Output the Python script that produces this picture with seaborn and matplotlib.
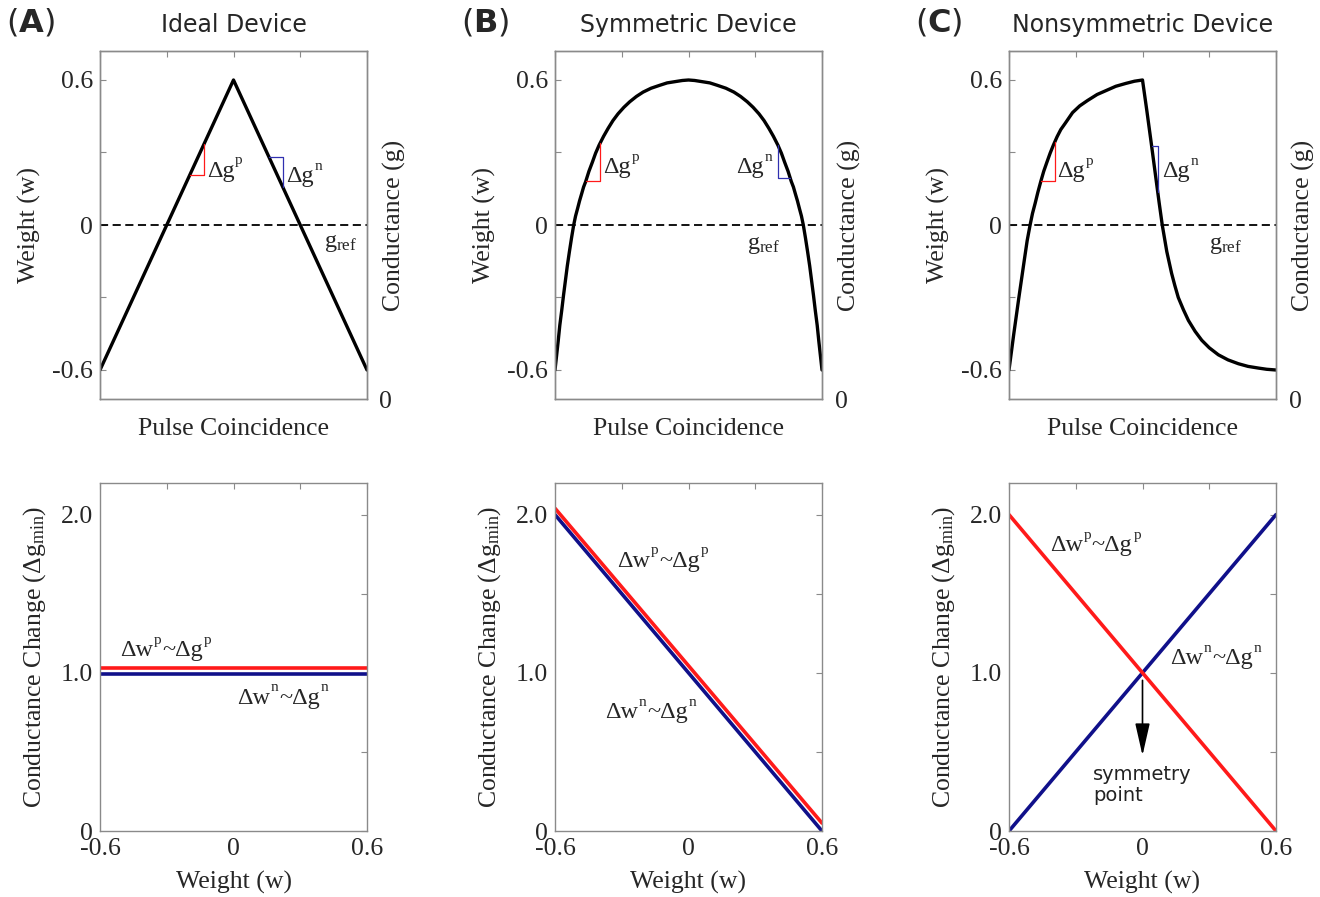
import numpy as np
import matplotlib
matplotlib.use("Agg")
import matplotlib.pyplot as plt
import seaborn as sns

# ---------------- data ----------------
# Top row: weight vs normalised pulse coincidence
pulse_A = [0.0, 0.5, 1.0]
weight_A = [-0.6, 0.6, -0.6]

pulse_B = [0.0, 0.006, 0.012, 0.018, 0.025, 0.032, 0.039, 0.046, 0.054, 0.062,
           0.070, 0.077, 0.085, 0.092, 0.100, 0.107, 0.115, 0.127, 0.140, 0.152,
           0.165, 0.182, 0.199, 0.217, 0.236, 0.258, 0.280, 0.305, 0.330, 0.360,
           0.392, 0.420, 0.454, 0.477, 0.500,
           0.523, 0.546, 0.580, 0.608, 0.640, 0.670, 0.695, 0.720, 0.742, 0.764,
           0.783, 0.801, 0.818, 0.835, 0.848, 0.860, 0.873, 0.885, 0.893, 0.900,
           0.908, 0.915, 0.923, 0.930, 0.938, 0.946, 0.954, 0.961, 0.968, 0.975,
           0.982, 0.988, 0.994, 1.0]
weight_B = [-0.60, -0.54, -0.48, -0.415, -0.355, -0.29, -0.23, -0.17, -0.11, -0.053,
            0.00, 0.037, 0.07, 0.10, 0.13, 0.157, 0.18, 0.222, 0.26, 0.297,
            0.33, 0.367, 0.40, 0.432, 0.46, 0.487, 0.51, 0.532, 0.55, 0.566,
            0.578, 0.588, 0.594, 0.598, 0.60,
            0.598, 0.594, 0.588, 0.578, 0.566, 0.55, 0.532, 0.51, 0.487, 0.46,
            0.432, 0.40, 0.367, 0.33, 0.297, 0.26, 0.222, 0.18, 0.157, 0.13,
            0.10, 0.07, 0.037, 0.00, -0.053, -0.11, -0.17, -0.23, -0.29, -0.355,
            -0.415, -0.48, -0.54, -0.60]

pulse_C = [0.0, 0.018, 0.037, 0.058, 0.068, 0.079, 0.088, 0.098, 0.108, 0.119,
           0.130, 0.142, 0.154, 0.166, 0.180, 0.194, 0.210, 0.238, 0.265, 0.294,
           0.330, 0.363, 0.400, 0.438, 0.470, 0.500,
           0.516, 0.532, 0.547, 0.562, 0.574, 0.591, 0.609, 0.621, 0.634, 0.653,
           0.672, 0.697, 0.722, 0.750, 0.784, 0.820, 0.859, 0.895, 0.934, 0.965, 1.0]
weight_C = [-0.60, -0.45, -0.30, -0.14, -0.065, 0.00, 0.048, 0.09, 0.135, 0.18,
            0.222, 0.26, 0.297, 0.33, 0.365, 0.395, 0.42, 0.465, 0.493, 0.515,
            0.54, 0.556, 0.574, 0.586, 0.595, 0.60,
            0.475, 0.345, 0.22, 0.095, 0.00, -0.11, -0.20, -0.25, -0.30, -0.35,
            -0.395, -0.44, -0.477, -0.508, -0.537, -0.558, -0.574, -0.585, -0.592, -0.597, -0.60]

# bracket positions (x1, x2) on the pulse axis
bracket_p = {"A": (0.337, 0.390), "B": (0.115, 0.169), "C": (0.119, 0.171)}
bracket_n = {"A": (0.633, 0.685), "B": (0.835, 0.881), "C": (0.534, 0.557)}

# Bottom row: conductance change vs weight
weight_axis = [-0.6, 0.6]
dgp_A = [1.03, 1.03]
dgn_A = [0.995, 0.995]
dgp_B = [2.04, 0.05]
dgn_B = [2.00, 0.00]
dgp_C = [2.00, 0.00]
dgn_C = [0.00, 2.00]

titles = ["Ideal Device", "Symmetric Device", "Nonsymmetric Device"]
letters = ["A", "B", "C"]
top_yticks = [-0.6, -0.3, 0, 0.3, 0.6]
top_yticklabels = ["-0.6", "", "0", "", "0.6"]
bot_yticks = [0, 0.5, 1.0, 1.5, 2.0]
bot_yticklabels = ["0", "", "1.0", "", "2.0"]
bot_xticks = [-0.6, -0.3, 0, 0.3, 0.6]
bot_xticklabels = ["-0.6", "", "0", "", "0.6"]

# ---------------- style ----------------
sns.set_style("white")
plt.rcParams["font.family"] = ["Liberation Serif", "DejaVu Serif"]
plt.rcParams["mathtext.fontset"] = "custom"
plt.rcParams["mathtext.rm"] = "Liberation Serif"
plt.rcParams["mathtext.it"] = "Liberation Serif:italic"
plt.rcParams["axes.unicode_minus"] = False

SPINE = "#8a8a8a"
RED = "#ff1a1a"
BLUE = "#10108a"
BR_BLUE = "#3030b0"
FS = 18.5
ANN = 17.5
SUP = 11

W, H = 1320, 897
fig = plt.figure(figsize=(W / 100, H / 100), dpi=100)

lefts = [100, 555, 1009]
width = 267
top_y0, top_y1 = 51, 399
bot_y0, bot_y1 = 483, 831


def make_ax(left, y0, y1):
    return fig.add_axes([left / W, 1 - y1 / H, width / W, (y1 - y0) / H])


def style_ax(ax):
    for s in ax.spines.values():
        s.set_color(SPINE)
        s.set_linewidth(1.0)
    ax.tick_params(direction="in", length=4, width=0.8, color=SPINE,
                   top=True, right=True, labelsize=FS, pad=5)


def rich_text(ax, x, y, parts):
    """parts: list of (string, is_superscript); (x, y) = lower-left of first part."""
    first = ax.text(x, y, parts[0][0], fontsize=ANN, ha="left", va="bottom")
    prev = first
    for txt, sup in parts[1:]:
        if sup:
            prev = ax.annotate(txt, xy=(1, 1), xycoords=(prev, first),
                               xytext=(0.6, 4.5), textcoords="offset points",
                               fontsize=SUP, ha="left", va="top")
        else:
            prev = ax.annotate(txt, xy=(1, 0), xycoords=(prev, first),
                               xytext=(0.3, 0), textcoords="offset points",
                               fontsize=ANN, ha="left", va="bottom")
    return first


top_data = [(pulse_A, weight_A), (pulse_B, weight_B), (pulse_C, weight_C)]
bot_data = [(dgp_A, dgn_A), (dgp_B, dgn_B), (dgp_C, dgn_C)]

dgp_pos = {"A": (0.40, 0.18), "B": (0.18, 0.194), "C": (0.18, 0.177)}
dgn_pos = {"A": (0.697, 0.157), "B": (0.678, 0.194), "C": (0.573, 0.177)}
gref_pos = {"A": (0.84, -0.075), "B": (0.72, -0.085), "C": (0.75, -0.085)}
p_lab = {"A": (-0.51, 1.075), "B": (-0.32, 1.64), "C": (-0.416, 1.736)}
n_lab = {"A": (0.016, 0.774), "B": (-0.375, 0.68), "C": (0.124, 1.025)}
letter_x = [6, 461, 915]

for i, key in enumerate(letters):
    # ---------- top row ----------
    ax = make_ax(lefts[i], top_y0, top_y1)
    px, wy = top_data[i]
    sns.lineplot(x=px, y=wy, ax=ax, color="black", lw=2.4,
                 estimator=None, sort=False)
    ax.axhline(0, color="black", lw=1.3, ls=(0, (4.5, 2.5)))
    ax.set_xlim(0, 1)
    ax.set_ylim(-0.72, 0.72)
    ax.set_xticks([0, 0.25, 0.5, 0.75, 1.0])
    ax.set_xticklabels([])
    ax.set_yticks(top_yticks)
    ax.set_yticklabels(top_yticklabels)
    style_ax(ax)
    ax.set_xlabel("Pulse Coincidence", fontsize=FS, labelpad=9)
    ax.set_ylabel("Weight (w)", fontsize=FS, labelpad=8)
    ax.set_title(titles[i], fontsize=17, family="DejaVu Sans", pad=14)

    # brackets
    x1, x2 = bracket_p[key]
    y1, y2 = np.interp(x1, px, wy), np.interp(x2, px, wy)
    ax.plot([x1, x2, x2], [y1, y1, y2], color=RED, lw=0.9)
    x1, x2 = bracket_n[key]
    y1, y2 = np.interp(x1, px, wy), np.interp(x2, px, wy)
    if key == "B":
        ax.plot([x1, x1, x2], [y1, y2, y2], color=BR_BLUE, lw=0.9)
    else:
        ax.plot([x1, x2, x2], [y1, y1, y2], color=BR_BLUE, lw=0.9)

    tx, ty = dgp_pos[key]
    rich_text(ax, tx, ty, [("Δg", False), ("p", True)])
    tx, ty = dgn_pos[key]
    rich_text(ax, tx, ty, [("Δg", False), ("n", True)])
    gx, gy = gref_pos[key]
    ax.text(gx, gy, r"g$_{\rm ref}$", fontsize=ANN, ha="left", va="center")

    tw = ax.twinx()
    tw.set_ylim(0, 1)
    tw.set_yticks([0])
    tw.set_yticklabels(["0"])
    for s in tw.spines.values():
        s.set_color(SPINE)
        s.set_linewidth(1.0)
    tw.tick_params(axis="y", length=0, labelsize=FS, pad=9)
    tw.set_ylabel("Conductance (g)", fontsize=FS, labelpad=-7)

    fig.text(letter_x[i] / W, 1 - 22 / H, r"($\mathbf{" + key + "}$)",
             fontsize=23, family="DejaVu Sans", math_fontfamily="dejavusans",
             ha="left", va="center")

    # ---------- bottom row ----------
    bx = make_ax(lefts[i], bot_y0, bot_y1)
    yp, yn = bot_data[i]
    sns.lineplot(x=weight_axis, y=yn, ax=bx, color=BLUE, lw=2.6,
                 estimator=None, sort=False)
    sns.lineplot(x=weight_axis, y=yp, ax=bx, color=RED, lw=2.6,
                 estimator=None, sort=False)
    bx.set_xlim(-0.6, 0.6)
    bx.set_ylim(0, 2.2)
    bx.set_xticks(bot_xticks)
    bx.set_xticklabels(bot_xticklabels)
    bx.set_yticks(bot_yticks)
    bx.set_yticklabels(bot_yticklabels)
    style_ax(bx)
    bx.set_xlabel("Weight (w)", fontsize=FS, labelpad=8)
    bx.set_ylabel(r"Conductance Change (Δg$_{\rm min}$)", fontsize=FS, labelpad=9)

    lx, ly = p_lab[key]
    rich_text(bx, lx, ly, [("Δw", False), ("p", True), ("~Δg", False), ("p", True)])
    lx, ly = n_lab[key]
    rich_text(bx, lx, ly, [("Δw", False), ("n", True), ("~Δg", False), ("n", True)])

    if key == "C":
        bx.annotate("", xy=(0, 0.46), xytext=(0, 0.97),
                    arrowprops=dict(arrowstyle="-|>,head_width=0.25,head_length=1.1",
                                    color="black", lw=1.2, mutation_scale=18))
        bx.text(-0.222, 0.42, "symmetry\npoint", fontsize=14,
                family="DejaVu Sans", ha="left", va="top", linespacing=1.15,
                color="#222222")

fig.savefig("out.png", dpi=100)
